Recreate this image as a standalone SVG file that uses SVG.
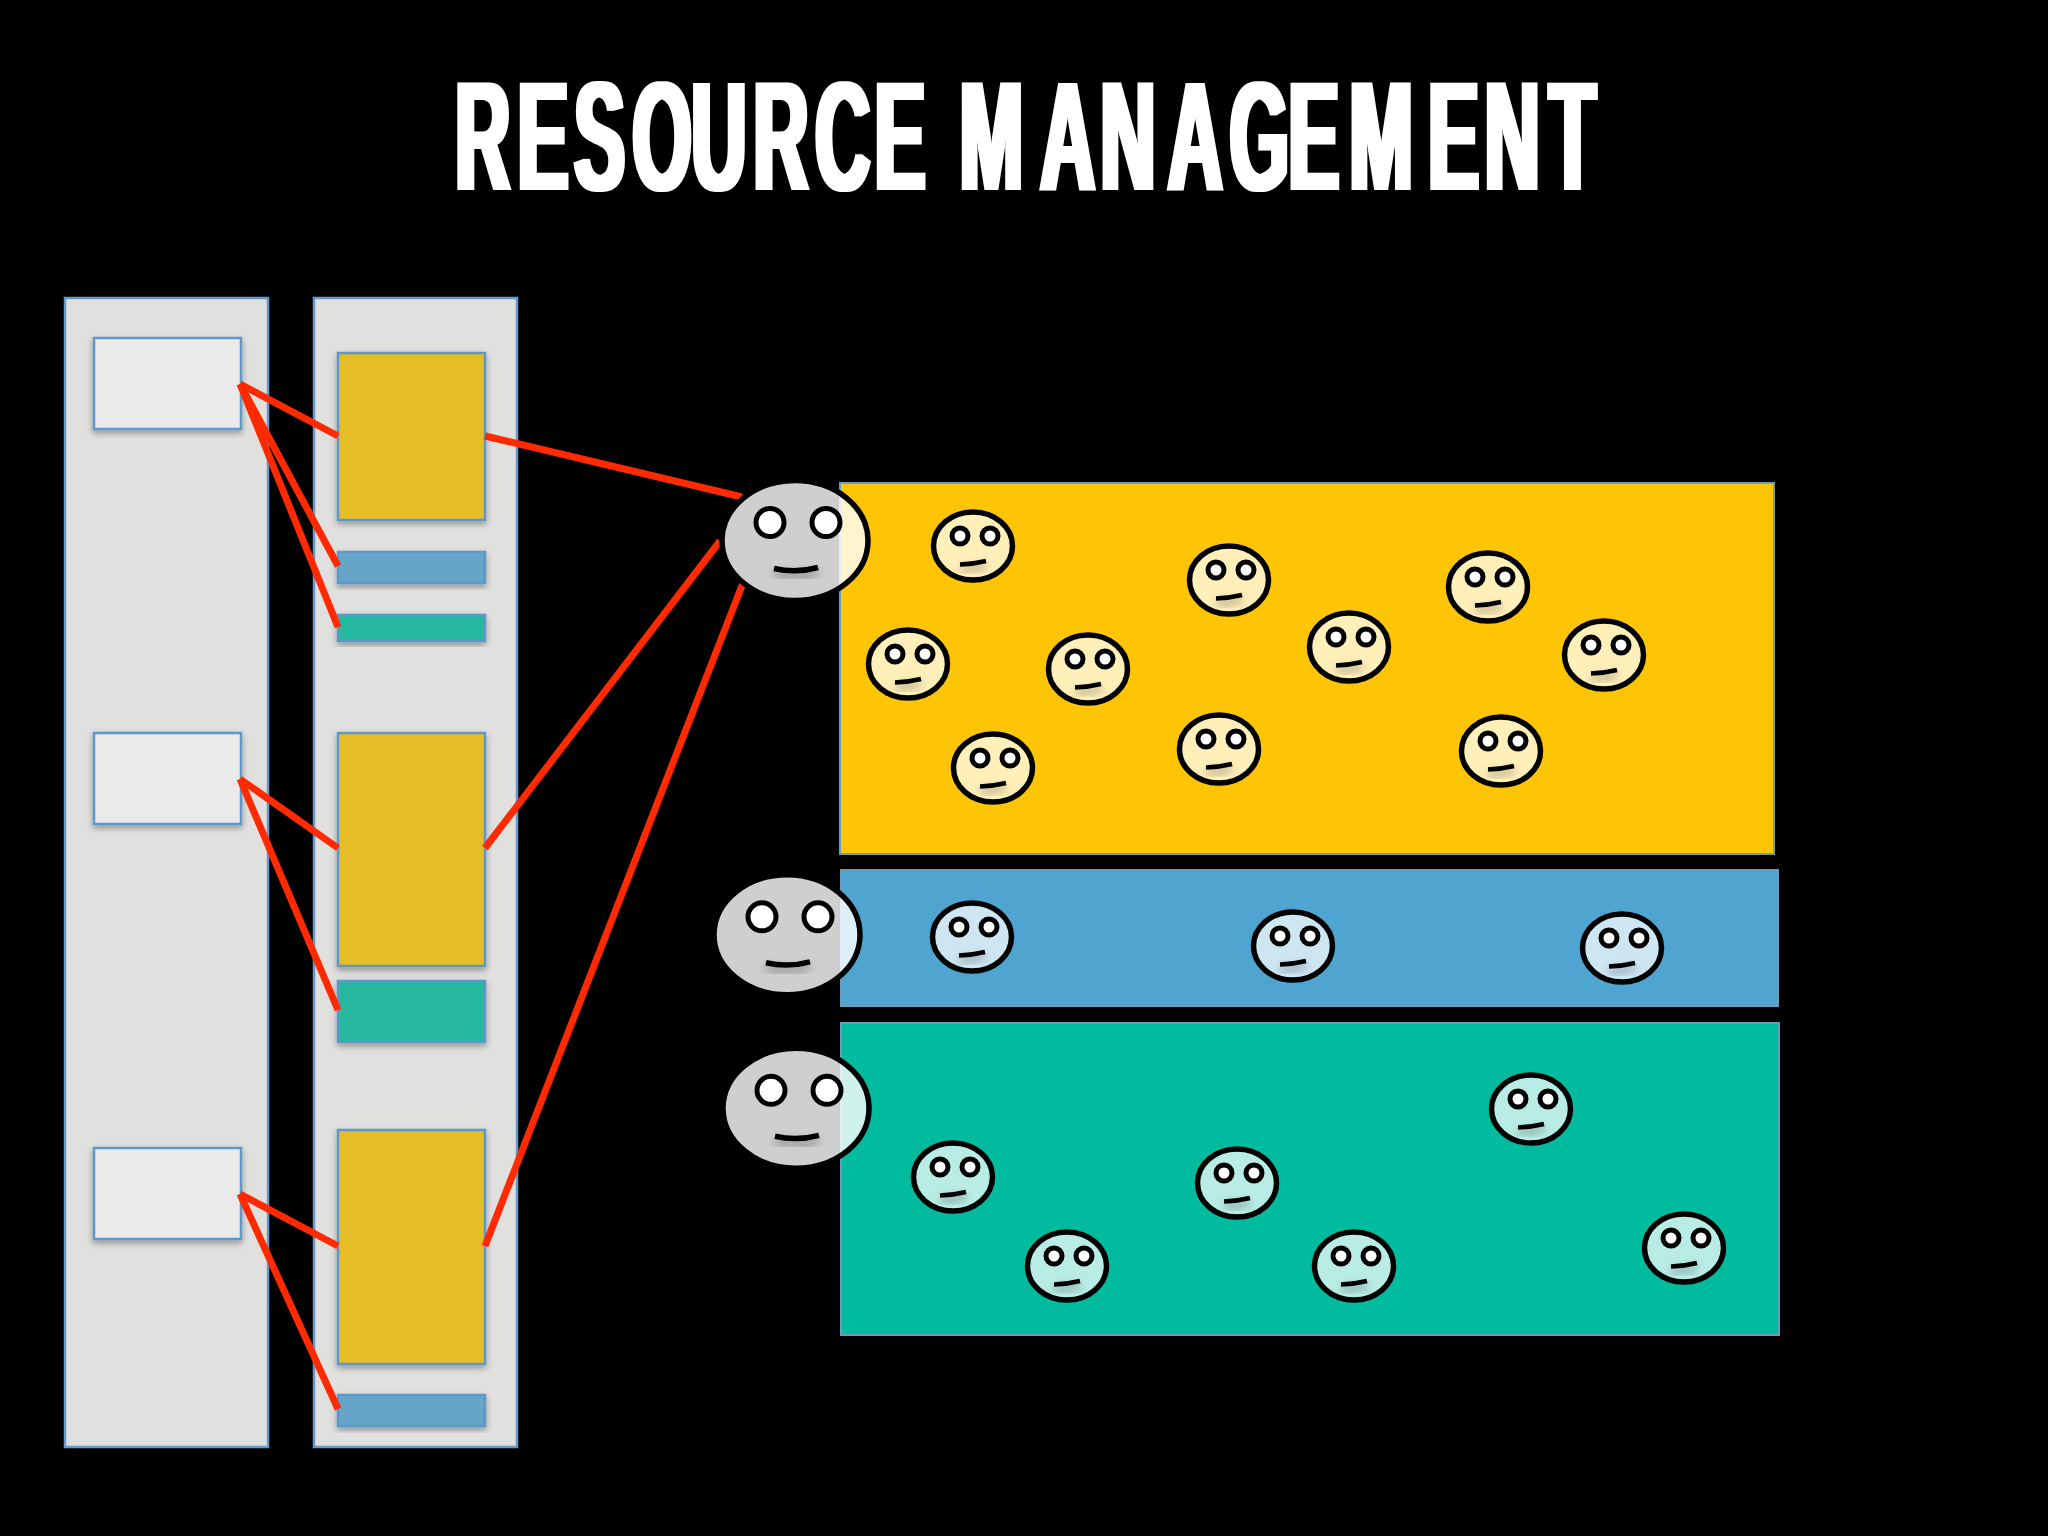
<svg xmlns="http://www.w3.org/2000/svg" width="2048" height="1536" viewBox="0 0 2048 1536">
<style>
.col{fill:#e0e0df;stroke:#6699c9;stroke-width:2.5}
.box{stroke:#5f97c8;stroke-width:2.5;filter:url(#sh)}
.pool{stroke:#6c9dbb;stroke-width:2}
.wh{fill:#eaeaea}.gd{fill:#e5bd27}.bl{fill:#66a5c8}.tl{fill:#26b79f}
.link{stroke:#ff2a00;stroke-width:7;fill:none}
.f{fill:#fff;stroke:#000;stroke-width:5.500}
.fs{fill-opacity:.72}.fb{fill-opacity:.81}
.e{fill:#fff;stroke:#000}
.m{fill:none;stroke:#000;stroke-linecap:butt;filter:url(#ms)}
.title{font-family:"Liberation Sans",Arial,sans-serif;font-weight:700;font-size:156px;fill:#fff}
</style>
<defs>
<filter id="sh" x="-20%" y="-20%" width="140%" height="140%"><feDropShadow dx="0" dy="3" stdDeviation="3" flood-color="#000" flood-opacity=".35"/></filter>
<filter id="ms" x="-40%" y="-150%" width="180%" height="500%"><feDropShadow dx="0" dy="5" stdDeviation="4" flood-color="#000" flood-opacity=".35"/></filter>
<filter id="thick" filterUnits="userSpaceOnUse" x="400" y="50" width="1260" height="190"><feMorphology operator="dilate" radius="3 0"/></filter>
<g id="small">
<ellipse class="f fs" cx="0" cy="0" rx="39.500" ry="34"/>
<circle class="e" cx="-13" cy="-10" r="8" stroke-width="5"/>
<circle class="e" cx="17" cy="-10" r="8" stroke-width="5"/>
<path class="m" d="M-13 18.500Q1 18 13 15" stroke-width="4.500"/>
</g>
<g id="big">
<ellipse class="f fb" cx="0" cy="0" rx="73" ry="60"/>
<circle class="e" cx="-25" cy="-18" r="14" stroke-width="5"/>
<circle class="e" cx="31" cy="-18" r="14" stroke-width="5"/>
<path class="m" d="M-21 28Q1 33 23 27" stroke-width="5.500"/>
</g>
</defs>
<rect width="2048" height="1536" fill="#000"/>
<g id="title" filter="url(#thick)"><text class="title" transform="translate(0 189.500) scale(.487 1)" x="935 1063 1179 1299 1420 1547 1674 1796 1889 1971 2136 2260 2398 2525 2646 2771 2933 3049 3181" y="0">RESOURCE MANAGEMENT</text></g>
<g id="column-left">
<rect class="col" x="65" y="298" width="203" height="1149"/>
<g id="box-1"><rect class="box wh" x="94" y="338" width="147" height="91"/></g>
<g id="box-2"><rect class="box wh" x="94" y="733" width="147" height="91"/></g>
<g id="box-3"><rect class="box wh" x="94" y="1148" width="147" height="91"/></g>
</g>
<g id="column-right">
<rect class="col" x="314" y="298" width="203" height="1149"/>
<g id="gold-1"><rect class="box gd" x="338" y="353" width="147" height="167"/></g>
<g id="blue-1"><rect class="box bl" x="338" y="552" width="147" height="31"/></g>
<g id="teal-1"><rect class="box tl" x="338" y="615" width="147" height="26"/></g>
<g id="gold-2"><rect class="box gd" x="338" y="733" width="147" height="233"/></g>
<g id="teal-2"><rect class="box tl" x="338" y="981" width="147" height="61"/></g>
<g id="gold-3"><rect class="box gd" x="338" y="1130" width="147" height="234"/></g>
<g id="blue-2"><rect class="box bl" x="338" y="1395" width="147" height="31"/></g>
</g>
<g id="pool-yellow"><rect class="pool" x="840" y="483" width="934" height="371" fill="#fdc506"/></g>
<g id="pool-blue"><rect class="pool" x="841" y="870" width="937" height="136" fill="#4fa5cf"/></g>
<g id="pool-teal"><rect class="pool" x="841" y="1023" width="938" height="312" fill="#00bb9e"/></g>
<g id="connectors">
<path class="link" d="M240 384L338 436"/>
<path class="link" d="M240 384L338 566"/>
<path class="link" d="M240 384L338 627"/>
<path class="link" d="M485 436L742 497"/>
<path class="link" d="M240 779L338 848"/>
<path class="link" d="M240 779L338 1010"/>
<path class="link" d="M485 848L720 541"/>
<path class="link" d="M240 1194L338 1246"/>
<path class="link" d="M240 1194L338 1409"/>
<path class="link" d="M485 1246L743 583"/>
</g>
<g id="manager-1"><use href="#big" transform="translate(795 540.500)"/></g>
<g id="manager-2"><use href="#big" transform="translate(787 934.800)"/></g>
<g id="manager-3"><use href="#big" transform="translate(796 1108.300)"/></g>
<g id="worker-y1"><use href="#small" transform="translate(973 546)"/></g>
<g id="worker-y2"><use href="#small" transform="translate(1229 580)"/></g>
<g id="worker-y3"><use href="#small" transform="translate(1488 587)"/></g>
<g id="worker-y4"><use href="#small" transform="translate(908 664)"/></g>
<g id="worker-y5"><use href="#small" transform="translate(1088 669)"/></g>
<g id="worker-y6"><use href="#small" transform="translate(1349 647)"/></g>
<g id="worker-y7"><use href="#small" transform="translate(1604 655)"/></g>
<g id="worker-y8"><use href="#small" transform="translate(993 768)"/></g>
<g id="worker-y9"><use href="#small" transform="translate(1219 749)"/></g>
<g id="worker-y10"><use href="#small" transform="translate(1501 751)"/></g>
<g id="worker-b1"><use href="#small" transform="translate(972 937)"/></g>
<g id="worker-b2"><use href="#small" transform="translate(1293 946)"/></g>
<g id="worker-b3"><use href="#small" transform="translate(1622 948)"/></g>
<g id="worker-t1"><use href="#small" transform="translate(1531 1109)"/></g>
<g id="worker-t2"><use href="#small" transform="translate(953 1177)"/></g>
<g id="worker-t3"><use href="#small" transform="translate(1237 1183)"/></g>
<g id="worker-t4"><use href="#small" transform="translate(1067 1266)"/></g>
<g id="worker-t5"><use href="#small" transform="translate(1354 1266)"/></g>
<g id="worker-t6"><use href="#small" transform="translate(1684 1248)"/></g>
</svg>
